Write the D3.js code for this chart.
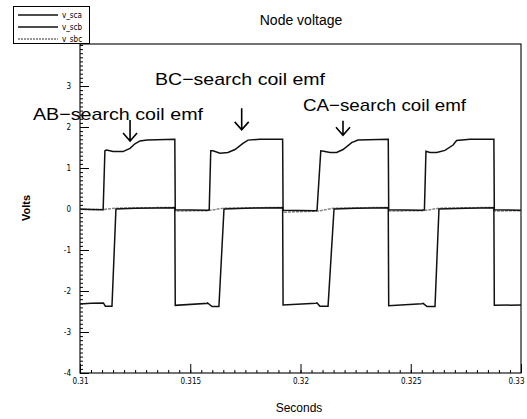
<!DOCTYPE html>
<html>
<head>
<meta charset="utf-8">
<script src="https://cdn.jsdelivr.net/npm/d3@7"></script>
<style>
  html, body { margin: 0; padding: 0; background: #fff; }
  svg { display: block; }
  .tick text { font-family: "Liberation Sans Narrow", "DejaVu Sans Condensed", "Liberation Sans", sans-serif; font-size: 8px; fill: #000; }
  .domain { display: none; }
</style>
</head>
<body>
<svg id="chart" width="527" height="419"></svg>
<script>
// Search coil voltages over one window of the simulation (time in s, volts)
const seriesNames = ["v_sca", "v_scb", "v_sbc"];

const vScaTime = [0.31, 0.3105, 0.31105, 0.31113, 0.31121, 0.3115, 0.31195, 0.31227, 0.31249, 0.31272, 0.31304, 0.3143,
  0.31432, 0.3158, 0.31586, 0.31593, 0.31603, 0.31635, 0.31671, 0.31703, 0.31739, 0.31762, 0.31816, 0.31919,
  0.31921, 0.3207, 0.32075, 0.32092, 0.32105, 0.32134, 0.32164, 0.32193, 0.32232, 0.32261, 0.32398,
  0.324, 0.3255, 0.32562, 0.32569, 0.32587, 0.32618, 0.32655, 0.32692, 0.32708, 0.32769, 0.32877,
  0.32879, 0.33];
const vScaValue = [0.0, -0.01, -0.02, 1.42, 1.44, 1.40, 1.40, 1.48, 1.59, 1.66, 1.68, 1.70,
  -0.02, -0.03, -0.02, 1.42, 1.42, 1.36, 1.38, 1.45, 1.60, 1.68, 1.70, 1.70,
  -0.03, -0.04, -0.03, 1.42, 1.41, 1.38, 1.38, 1.45, 1.62, 1.68, 1.70,
  -0.02, -0.03, -0.02, 1.41, 1.38, 1.38, 1.43, 1.56, 1.67, 1.70, 1.70,
  -0.02, -0.03];

const vScbTime = [0.31, 0.3105, 0.31106, 0.31115, 0.31145, 0.31163, 0.3125, 0.3143,
  0.31432, 0.3158, 0.31576, 0.31599, 0.3163, 0.31653, 0.3175, 0.31919,
  0.31921, 0.3207, 0.32075, 0.32088, 0.32125, 0.32152, 0.3225, 0.32398,
  0.324, 0.3255, 0.32556, 0.32574, 0.3261, 0.32628, 0.3275, 0.32877,
  0.32879, 0.33];
const vScbValue = [-2.32, -2.30, -2.29, -2.37, -2.37, 0.0, 0.02, 0.03,
  -2.35, -2.30, -2.28, -2.38, -2.38, 0.0, 0.02, 0.03,
  -2.34, -2.30, -2.29, -2.37, -2.37, 0.0, 0.02, 0.03,
  -2.36, -2.31, -2.30, -2.38, -2.38, 0.0, 0.02, 0.03,
  -2.35, -2.34];

const vSbcTime = [0.31, 0.3111, 0.3116, 0.3143, 0.31432, 0.3158, 0.3165, 0.31919, 0.31921, 0.3208,
  0.3215, 0.32398, 0.324, 0.3256, 0.3263, 0.32877, 0.32879, 0.33];
const vSbcValue = [-0.01, -0.01, 0.02, 0.04, -0.05, -0.04, 0.02, 0.04, -0.08, -0.05,
  0.02, 0.04, -0.05, -0.04, 0.02, 0.04, -0.05, -0.04];

const yTicks = [-4, -3, -2, -1, 0, 1, 2, 3];
const xTicks = [0.31, 0.315, 0.32, 0.325, 0.33];

// Callout labels and the time / voltage each arrow points at
const calloutText = ["AB\u2212search coil emf", "BC\u2212search coil emf", "CA\u2212search coil emf"];
const calloutTime = [0.31227, 0.317333, 0.321927];
const calloutTip = [1.66, 1.93, 1.80];
const calloutTail = [2.17, 2.46, 2.15];

const svg = d3.select("#chart");
const plotL = 80, plotR = 521, plotT = 45, plotB = 373;

const x = d3.scaleLinear().domain([0.31, 0.33]).range([plotL, plotR]);
const y = d3.scaleLinear().domain([-4, 4]).range([plotB, plotT]);

// Frame
svg.append("rect")
  .attr("x", plotL).attr("y", plotT - 1)
  .attr("width", plotR - plotL).attr("height", plotB - plotT + 1)
  .attr("fill", "none").attr("stroke", "#000").attr("stroke-width", 1.1);

// Minor ticks
svg.append("g").attr("transform", `translate(${plotL},0)`)
  .call(d3.axisLeft(y).tickValues(d3.range(-40, 41).map(d => d / 10)).tickSize(-3).tickFormat(""))
  .selectAll("line").attr("stroke", "#000");
svg.append("g").attr("transform", `translate(0,${plotB})`)
  .call(d3.axisBottom(x).tickValues(d3.range(0, 41).map(d => 0.31 + d * 0.0005)).tickSize(-3).tickFormat(""))
  .selectAll("line").attr("stroke", "#000");

// Major ticks with labels
const yAxis = svg.append("g").attr("transform", `translate(${plotL},0)`)
  .call(d3.axisLeft(y).tickValues(yTicks).tickSize(-9).tickPadding(9)
    .tickFormat(d => (d < 0 ? "-" + Math.abs(d) : String(d))));
yAxis.selectAll("line").attr("stroke", "#000");

const xAxis = svg.append("g").attr("transform", `translate(0,${plotB})`)
  .call(d3.axisBottom(x).tickValues(xTicks).tickSize(-9).tickPadding(5)
    .tickFormat(d => String(+d.toFixed(3))));
xAxis.selectAll("line").attr("stroke", "#000");
xAxis.selectAll(".tick text").filter(d => d === 0.33).attr("text-anchor", "end").attr("dx", "3");

// Waveforms
const line = d3.line().x(d => x(d[0])).y(d => y(d[1]));
const zip = (t, v) => t.map((tt, i) => [tt, v[i]]);

svg.append("path").datum(zip(vSbcTime, vSbcValue))
  .attr("d", line).attr("fill", "none")
  .attr("stroke", "#888").attr("stroke-width", 1.5).attr("stroke-dasharray", "3,1");
svg.append("path").datum(zip(vScbTime, vScbValue))
  .attr("d", line).attr("fill", "none")
  .attr("stroke", "#111").attr("stroke-width", 1.5);
svg.append("path").datum(zip(vScaTime, vScaValue))
  .attr("d", line).attr("fill", "none")
  .attr("stroke", "#111").attr("stroke-width", 1.5);

// Callouts
const calloutPos = [[33, 120, 170], [155, 85, 170], [303, 111, 163]];
calloutText.forEach((txt, i) => {
  const [tx, ty, tw] = calloutPos[i];
  svg.append("text")
    .attr("x", tx).attr("y", ty)
    .attr("textLength", tw).attr("lengthAdjust", "spacingAndGlyphs")
    .attr("font-family", "Liberation Sans, Arial, sans-serif")
    .attr("font-size", 17).attr("fill", "#000")
    .text(txt);
  const ax = x(calloutTime[i]);
  const y0 = y(calloutTail[i]), y1 = y(calloutTip[i]);
  svg.append("path")
    .attr("d", `M${ax},${y0}V${y1}M${ax - 7},${y1 - 8}L${ax},${y1}L${ax + 7},${y1 - 8}`)
    .attr("fill", "none").attr("stroke", "#000").attr("stroke-width", 1.6);
});

// Titles
svg.append("text").attr("x", 301).attr("y", 25).attr("text-anchor", "middle")
  .attr("font-family", "Liberation Sans, Arial, sans-serif").attr("font-size", 14)
  .text("Node voltage");
svg.append("text").attr("x", 299).attr("y", 412).attr("text-anchor", "middle")
  .attr("font-family", "Liberation Sans, Arial, sans-serif").attr("font-size", 12)
  .text("Seconds");
svg.append("text").attr("transform", "translate(30,208) rotate(-90)").attr("text-anchor", "middle")
  .attr("font-family", "Liberation Sans, Arial, sans-serif").attr("font-size", 11).attr("font-weight", "bold")
  .text("Volts");

// Legend
const legend = svg.append("g");
legend.append("rect").attr("x", 13.5).attr("y", 6.5).attr("width", 76).attr("height", 37)
  .attr("fill", "#fff").attr("stroke", "#000");
const legendStyles = [
  { stroke: "#111", dash: null },
  { stroke: "#111", dash: null },
  { stroke: "#777", dash: "2,1" }
];
seriesNames.forEach((name, i) => {
  const ly = 15 + i * 12;
  legend.append("line").attr("x1", 18).attr("x2", 58).attr("y1", ly).attr("y2", ly)
    .attr("stroke", legendStyles[i].stroke).attr("stroke-width", 1.3)
    .attr("stroke-dasharray", legendStyles[i].dash);
  legend.append("text").attr("x", 62).attr("y", ly + 3)
    .attr("font-family", "Liberation Sans Narrow, DejaVu Sans Condensed, sans-serif").attr("font-size", 8)
    .text(name);
});
</script>
</body>
</html>
